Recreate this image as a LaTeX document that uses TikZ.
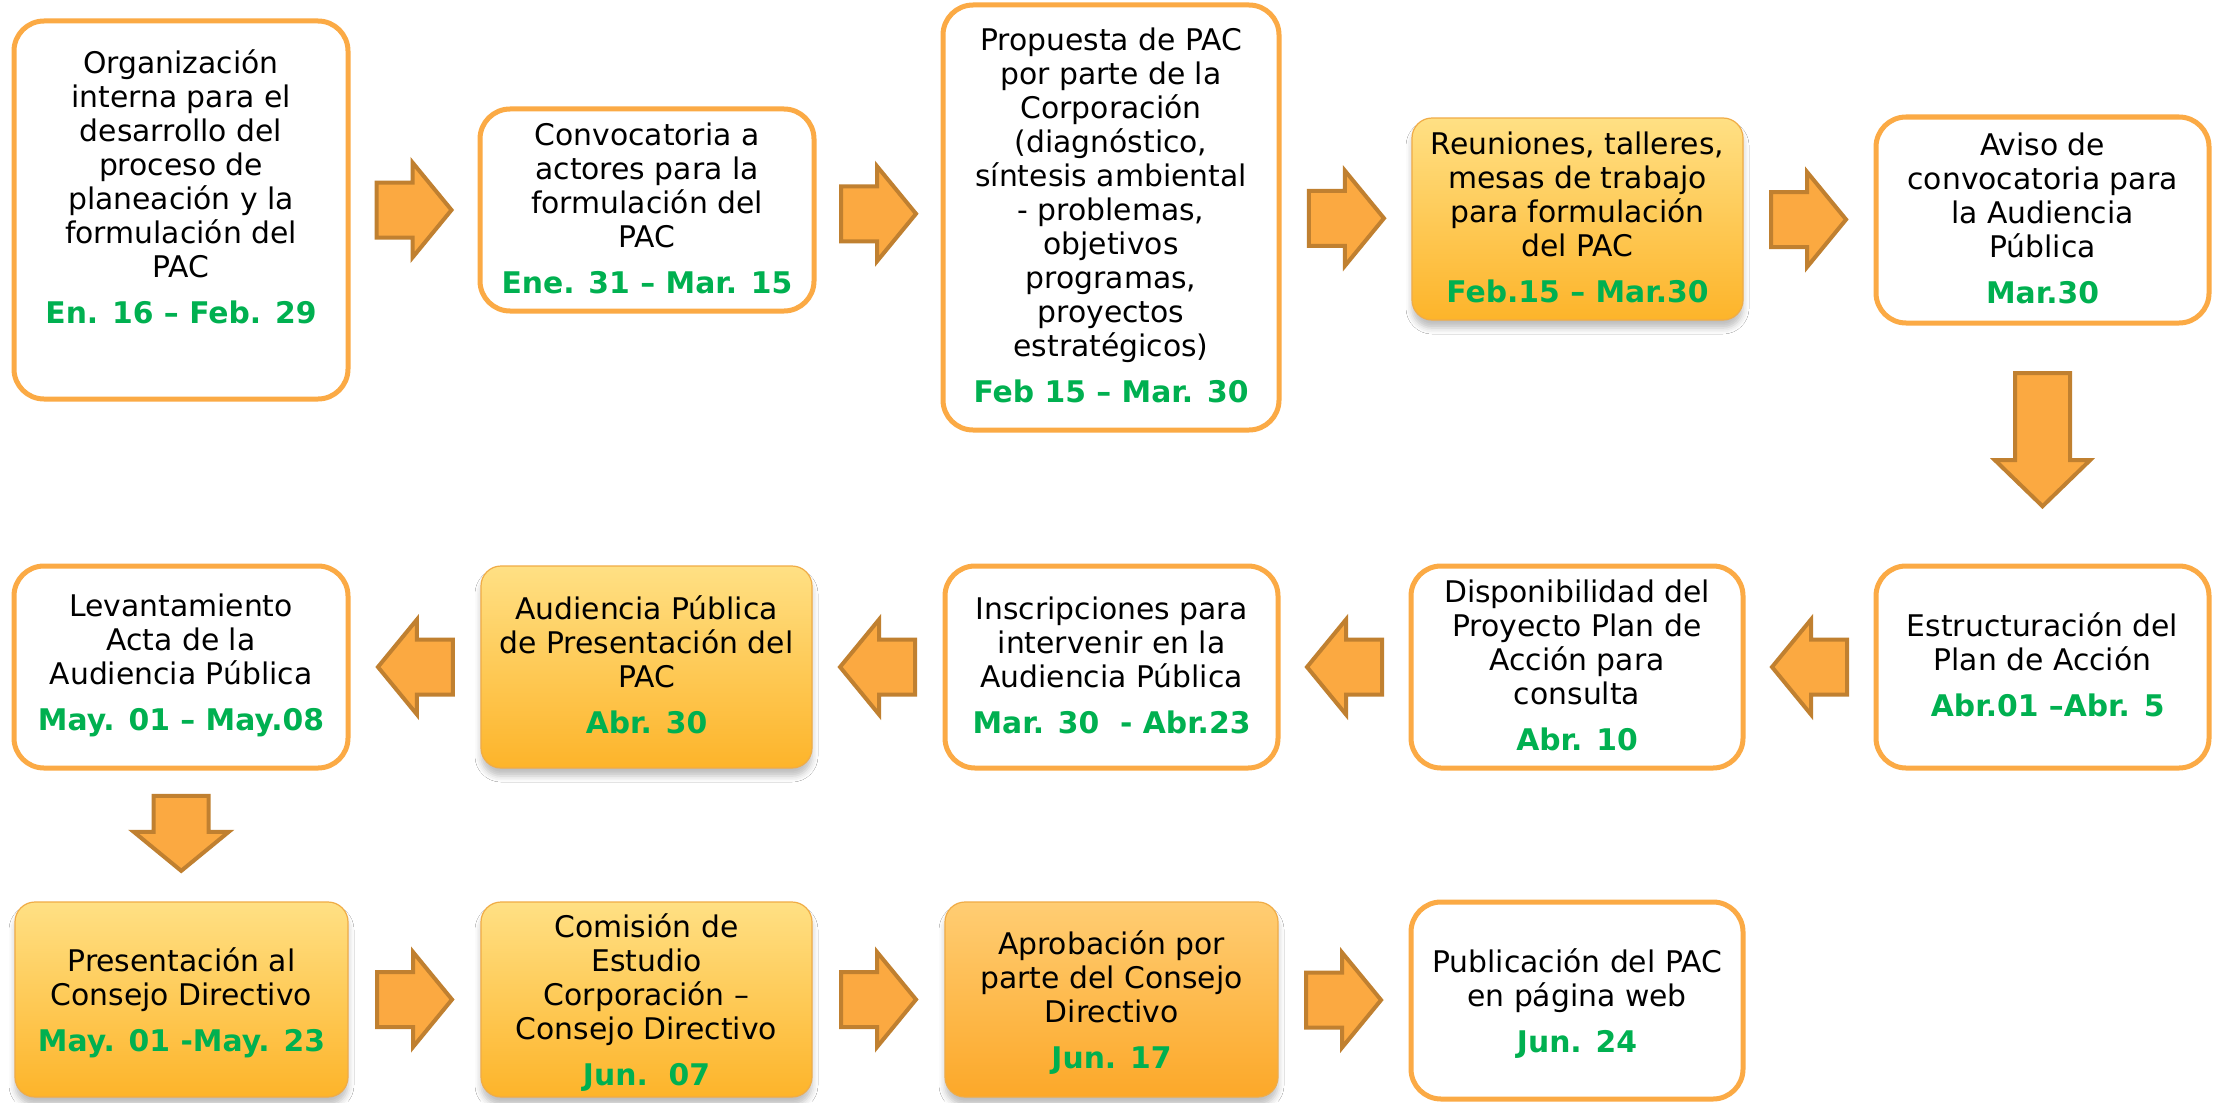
\documentclass[tikz,border=0pt]{standalone}
\usepackage{fontspec}
\setmainfont{DejaVu Sans}
\usetikzlibrary{fit,calc,shadows.blur}
\definecolor{boxorange}{RGB}{251,170,69}
\definecolor{gborder}{RGB}{240,172,70}
\definecolor{gtop}{RGB}{255,224,132}
\definecolor{gbot}{RGB}{253,180,42}
\definecolor{otop}{RGB}{255,205,115}
\definecolor{obot}{RGB}{252,168,41}
\definecolor{dgreen}{RGB}{0,176,80}
\definecolor{afill}{RGB}{251,169,65}
\definecolor{aline}{RGB}{192,128,48}
\newcommand{\dt}[1]{\\[6pt]{\bfseries\color{dgreen}#1}}
\tikzset{
  x=0.5pt, y=-0.5pt,
  txt/.style={align=center, inner sep=0pt, font=\fontsize{14.9pt}{17pt}\selectfont},
  wbox/.style={draw=boxorange, line width=2.5pt, rounded corners=15pt, fill=white, inner sep=0pt},
  gbox/.style={draw=gborder, line width=0.6pt, rounded corners=10pt, inner sep=0pt,
     top color=gtop, bottom color=gbot,
     blur shadow={shadow xshift=0pt, shadow yshift=-4pt, shadow blur radius=3pt, shadow opacity=25}},
  obox/.style={gbox, top color=otop, bottom color=obot},
  arrowstyle/.style={fill=afill, draw=aline, line width=2pt, line join=miter},
  pics/shortarrow/.style={code={
    \draw[arrowstyle] (-37.5,-27.5) -- (-1.5,-27.5) -- (-1.5,-47.5) -- (37.5,0)
      -- (-1.5,47.5) -- (-1.5,27.5) -- (-37.5,27.5) -- cycle;}},
  pics/longarrow/.style={code={
    \draw[arrowstyle] (-66.5,-27.5) -- (20.5,-27.5) -- (20.5,-47.5) -- (66.5,0)
      -- (20.5,47.5) -- (20.5,27.5) -- (-66.5,27.5) -- cycle;}},
}
\begin{document}
\begin{tikzpicture}
\useasboundingbox (0,0) rectangle (2219,1102);
\fill[white] (0,0) rectangle (2219,1102);

% boxes
\node[wbox, fit={(14,21) (348,399)}] (b1) {};
\node[wbox, fit={(480,109) (814,311)}] (b2) {};
\node[wbox, fit={(943,5) (1279,430)}] (b3) {};
\node[gbox, fit={(1412,118) (1743,320)}] (b4) {};
\node[wbox, fit={(1876,117) (2209,323)}] (b5) {};
\node[wbox, fit={(1876,566) (2209,768)}] (b6) {};
\node[wbox, fit={(1411,566) (1743,768)}] (b7) {};
\node[wbox, fit={(945,566) (1278,768)}] (b8) {};
\node[gbox, fit={(481,566) (812,768)}] (b9) {};
\node[wbox, fit={(14,566) (348,768)}] (b10) {};
\node[gbox, fit={(15,902) (348,1097)}] (b11) {};
\node[gbox, fit={(481,902) (812,1097)}] (b12) {};
\node[obox, fit={(945,902) (1278,1097)}] (b13) {};
\node[wbox, fit={(1411,902) (1743,1099)}] (b14) {};

% texts
\node[txt] (t1) at ([yshift=11.5pt]b1.center) {Organización\\interna para el\\desarrollo del\\proceso de\\planeación y la\\formulación del\\PAC\dt{En. 16 – Feb. 29}};
\node[txt] (t2) at ([yshift=1pt]b2.center) {Convocatoria a\\actores para la\\formulación del\\PAC\dt{Ene. 31 – Mar. 15}};
\node[txt] (t3) at ([yshift=1pt]b3.center) {Propuesta de PAC\\por parte de la\\Corporación\\(diagnóstico,\\síntesis ambiental\\- problemas,\\objetivos\\programas,\\proyectos\\estratégicos)\dt{Feb 15 – Mar. 30}};
\node[txt] (t4) at ([yshift=1pt]b4.center) {Reuniones, talleres,\\mesas de trabajo\\para formulación\\del PAC\dt{Feb.15 – Mar.30}};
\node[txt] (t5) at ([yshift=1pt]b5.center) {Aviso de\\convocatoria para\\la Audiencia\\Pública\dt{Mar.30}};
\node[txt] (t6) at ([yshift=1pt]b6.center) {Estructuración del\\Plan de Acción\dt{\ Abr.01 –Abr. 5}};
\node[txt] (t7) at ([yshift=1pt]b7.center) {Disponibilidad del\\Proyecto Plan de\\Acción para\\consulta\dt{Abr. 10}};
\node[txt] (t8) at ([yshift=1pt]b8.center) {Inscripciones para\\intervenir en la\\Audiencia Pública\dt{Mar. 30\ \ - Abr.23}};
\node[txt] (t9) at ([yshift=1pt]b9.center) {Audiencia Pública\\de Presentación del\\PAC\dt{Abr. 30}};
\node[txt] (t10) at ([yshift=1pt]b10.center) {Levantamiento\\Acta de la\\Audiencia Pública\dt{May. 01 – May.08}};
\node[txt] (t11) at ([yshift=-1.5pt]b11.center) {Presentación al\\Consejo Directivo\dt{May. 01 -May. 23}};
\node[txt] (t12) at ([yshift=-1.5pt]b12.center) {Comisión de\\Estudio\\Corporación –\\Consejo Directivo\dt{Jun.\ \ 07}};
\node[txt] (t13) at ([yshift=-1.5pt]b13.center) {Aprobación por\\parte del Consejo\\Directivo\dt{Jun. 17}};
\node[txt] (t14) at ([yshift=-1.5pt]b14.center) {Publicación del PAC\\en página web\dt{Jun. 24}};

% block arrows
\pic at ($(b1.east)!0.5!(b2.west)$) {shortarrow};
\pic at ($(b2.east)!0.5!(b3.west)$) {shortarrow};
\pic at ($(b3.east)!0.5!(b4.west)$) {shortarrow};
\pic at ($(b4.east)!0.5!(b5.west)$) {shortarrow};
\pic[rotate=-90] at ($(b5.south)!0.48!(b6.north)$) {longarrow};
\pic[rotate=180] at ($(b6.west)!0.5!(b7.east)$) {shortarrow};
\pic[rotate=180] at ($(b7.west)!0.5!(b8.east)$) {shortarrow};
\pic[rotate=180] at ($(b8.west)!0.5!(b9.east)$) {shortarrow};
\pic[rotate=180] at ($(b9.west)!0.5!(b10.east)$) {shortarrow};
\pic[rotate=-90] at ($(b10.south)!0.48!(b11.north)$) {shortarrow};
\pic at ($(b11.east)!0.5!(b12.west)$) {shortarrow};
\pic at ($(b12.east)!0.5!(b13.west)$) {shortarrow};
\pic at ($(b13.east)!0.5!(b14.west)$) {shortarrow};
\end{tikzpicture}
\end{document}
